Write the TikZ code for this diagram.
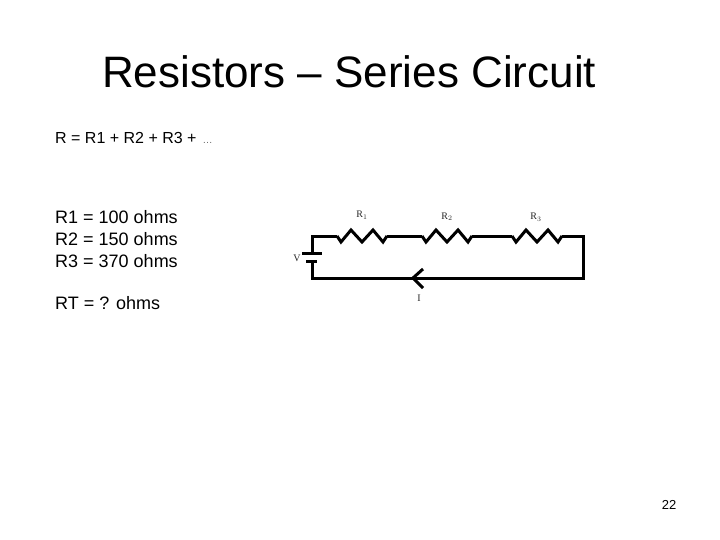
\documentclass[tikz,border=0pt]{standalone}
\usepackage{fontspec}
\setmainfont{Liberation Sans}
\newfontfamily\labelfont{Liberation Serif}

\begin{document}
\begin{tikzpicture}[x=1pt, y=-1pt,
    wire/.style = {line width=3pt, line join=miter, line cap=butt},
    body/.style = {anchor=base west, inner sep=0pt, font=\fontsize{18}{20}\selectfont},
    part/.style = {anchor=base, inner sep=0pt, text=black!85, font=\labelfont\fontsize{10}{11}\selectfont}]
\useasboundingbox (0,0) rectangle (720,540);
\node[anchor=base west, inner sep=0pt, font=\fontsize{44}{50}\selectfont] (title) at (102,88) {Resistors -- Series Circuit};
\node[body, font=\fontsize{16}{20}\selectfont] (sum) at (55,144) {R = R1 + R2 + R3 + \textcolor{black!60}{\fontsize{10}{12}\selectfont\,…}};
\node[body] (r1val) at (55,224) {R1 = 100 ohms};
\node[body] (r2val) at (55,245) {R2 = 150 ohms};
\node[body] (r3val) at (55,267) {R3 = 370 ohms};
\node[body] (rtval) at (55,309) {RT = ? ohms};
\node[anchor=base, inner sep=0pt, font=\fontsize{13}{15}\selectfont] (page) at (669,509) {22};
% circuit corners
\coordinate (tl) at (312,236);
\coordinate (tr) at (583,236);
\coordinate (bl) at (312,278);
\coordinate (br) at (583,278);
\coordinate (batp) at (312,253);
\coordinate (batn) at (312,261);
\coordinate (batpa) at (302,253);
\coordinate (batpb) at (322,253);
\coordinate (batna) at (306,261);
\coordinate (batnb) at (317,261);
\coordinate (tip) at (413,278);
\coordinate (tipa) at (423,269);
\coordinate (tipb) at (423,288);
% resistors
\foreach \name/\xs in {ra/337, rb/422, rc/512} {
  \coordinate (\name0) at (\xs,236);
  \coordinate (\name1) at (\xs+4,242);
  \coordinate (\name2) at (\xs+14,230);
  \coordinate (\name3) at (\xs+25,242);
  \coordinate (\name4) at (\xs+36,230);
  \coordinate (\name5) at (\xs+46,242);
  \coordinate (\name6) at (\xs+50,236);
  \draw[wire] (\name0) -- (\name1) -- (\name2) -- (\name3) -- (\name4) -- (\name5) -- (\name6);
}
\draw[wire] (batp) -- (tl) -- (ra0);
\draw[wire] (ra6) -- (rb0);
\draw[wire] (rb6) -- (rc0);
\draw[wire] (rc6) -- (tr) -- (br) -- (bl) -- (batn);
\draw[wire] (batpa) -- (batpb);
\draw[wire] (batna) -- (batnb);
\draw[wire] (tipa) -- (tip) -- (tipb);
% labels
\node[part] (r1lab) at (362,218) {R$_1$};
\node[part] (r2lab) at (447,219) {R$_2$};
\node[part] (r3lab) at (536,220) {R$_3$};
\node[part] (vlab) at (297,261) {V};
\node[part] (ilab) at (419,301) {I};
\end{tikzpicture}
\end{document}
